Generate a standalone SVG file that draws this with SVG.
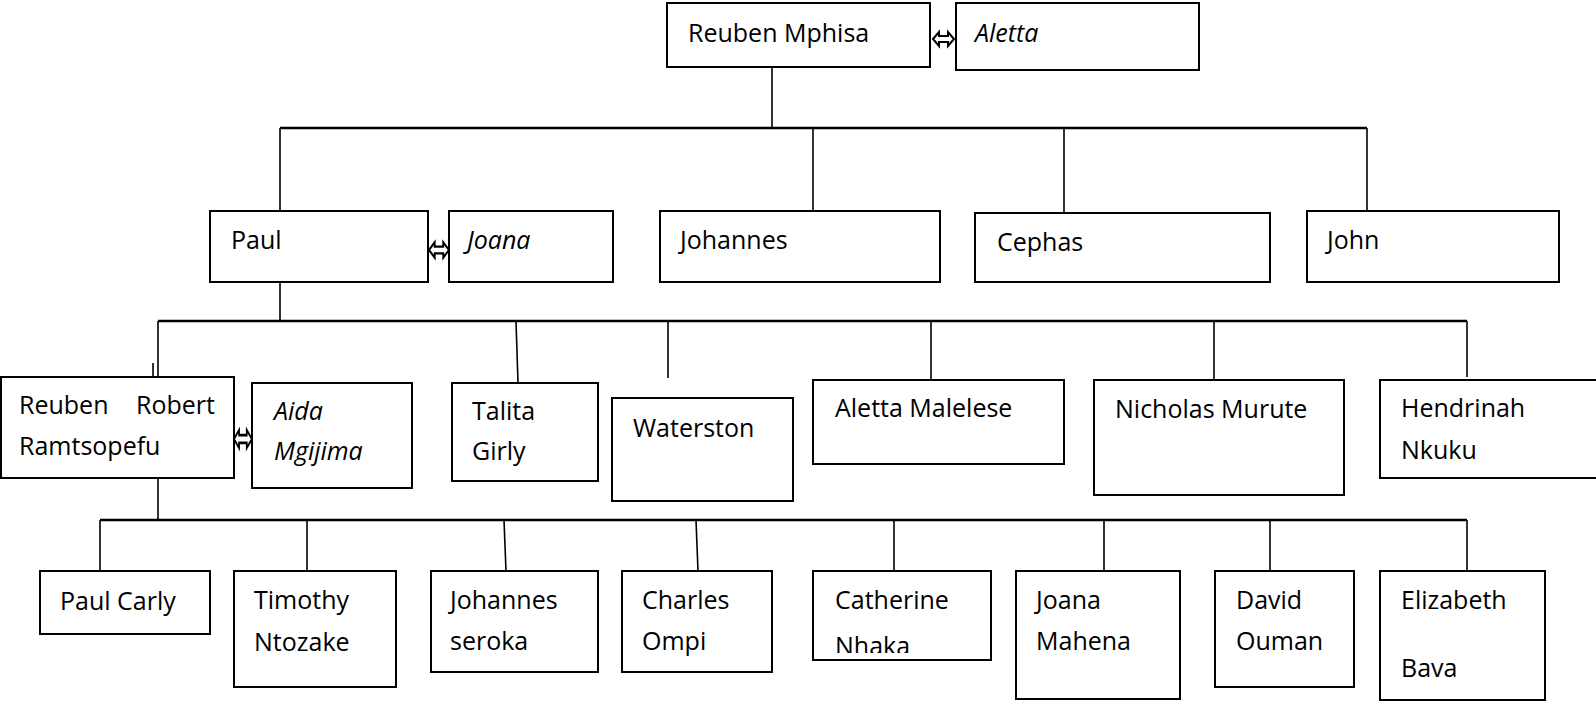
<svg xmlns="http://www.w3.org/2000/svg" width="1596" height="702" viewBox="0 0 1596 702">
<style>
  .box{fill:#fff;stroke:#000;stroke-width:2}
  .t{font-family:"Open Sans","Noto Sans",sans-serif;font-size:25px;fill:#000}
  .i{font-style:italic}
  .bus{stroke:#000;stroke-width:2.5;fill:none}
  .drop{stroke:#000;stroke-width:1.6;fill:none}
  .sp{fill:#fff;stroke:#000;stroke-width:2;stroke-linejoin:miter}
</style>
<defs>
  <clipPath id="clipCath"><rect x="813" y="571" width="178" height="82"/></clipPath>
  <path id="dbl" d="M0,0 L6,-7 L6,-3 L15,-3 L15,-7 L21,0 L15,7 L15,3 L6,3 L6,7 Z"/>
</defs>
<rect width="1596" height="702" fill="#fff"/>

<g id="connectors">
  <line class="drop" x1="772" y1="68" x2="772" y2="128"/>
  <line class="bus" x1="280" y1="128" x2="1367" y2="128"/>
  <line class="drop" x1="280" y1="128" x2="280" y2="211"/>
  <line class="drop" x1="813" y1="128" x2="813" y2="211"/>
  <line class="drop" x1="1064" y1="128" x2="1064" y2="213"/>
  <line class="drop" x1="1367" y1="128" x2="1367" y2="216"/>

  <line class="drop" x1="280" y1="282" x2="280" y2="321"/>
  <line class="bus" x1="158" y1="321" x2="1467" y2="321"/>
  <line class="drop" x1="158" y1="321" x2="158" y2="377"/>
  <line class="drop" x1="153" y1="363" x2="153" y2="377" stroke-width="1"/>
  <line class="drop" x1="516" y1="321" x2="518" y2="383"/>
  <line class="drop" x1="668" y1="321" x2="668" y2="378"/>
  <line class="drop" x1="931" y1="321" x2="931" y2="380"/>
  <line class="drop" x1="1214" y1="321" x2="1214" y2="380"/>
  <line class="drop" x1="1467" y1="321" x2="1467" y2="377"/>

  <line class="drop" x1="158" y1="478" x2="158" y2="520"/>
  <line class="bus" x1="100" y1="520" x2="1467" y2="520"/>
  <line class="drop" x1="100" y1="520" x2="100" y2="571"/>
  <line class="drop" x1="307" y1="520" x2="307" y2="571"/>
  <line class="drop" x1="504" y1="520" x2="506" y2="571"/>
  <line class="drop" x1="696" y1="520" x2="698" y2="571"/>
  <line class="drop" x1="894" y1="520" x2="894" y2="571"/>
  <line class="drop" x1="1104" y1="520" x2="1104" y2="571"/>
  <line class="drop" x1="1270" y1="520" x2="1270" y2="571"/>
  <line class="drop" x1="1467" y1="520" x2="1467" y2="571"/>

  <use href="#dbl" class="sp" transform="translate(933,39)"/>
  <use href="#dbl" class="sp" transform="translate(429,250) scale(0.95,1.1)"/>
  <use href="#dbl" class="sp" transform="translate(234,439) scale(0.85,1.3)"/>
</g>

<g id="n-reuben-mphisa"><rect class="box" x="667" y="3" width="263" height="64"/><text class="t" x="688" y="42">Reuben Mphisa</text></g>
<g id="n-aletta"><rect class="box" x="956" y="3" width="243" height="67"/><text class="t i" x="975" y="42">Aletta</text></g>

<g id="n-paul"><rect class="box" x="210" y="211" width="218" height="71"/><text class="t" x="231" y="249">Paul</text></g>
<g id="n-joana"><rect class="box" x="449" y="211" width="164" height="71"/><text class="t i" x="467" y="249">Joana</text></g>
<g id="n-johannes"><rect class="box" x="660" y="211" width="280" height="71"/><text class="t" x="680" y="249">Johannes</text></g>
<g id="n-cephas"><rect class="box" x="975" y="213" width="295" height="69"/><text class="t" x="997" y="251">Cephas</text></g>
<g id="n-john"><rect class="box" x="1307" y="211" width="252" height="71"/><text class="t" x="1327" y="249">John</text></g>

<g id="n-reuben-robert"><rect class="box" x="1" y="377" width="233" height="101"/><text class="t"><tspan x="19" y="414">Reuben</tspan><tspan x="136" y="414">Robert</tspan><tspan x="19" y="455">Ramtsopefu</tspan></text></g>
<g id="n-aida"><rect class="box" x="252" y="383" width="160" height="105"/><text class="t i"><tspan x="274" y="420">Aida</tspan><tspan x="274" y="460">Mgijima</tspan></text></g>
<g id="n-talita"><rect class="box" x="452" y="383" width="146" height="98"/><text class="t"><tspan x="472" y="420">Talita</tspan><tspan x="472" y="460">Girly</tspan></text></g>
<g id="n-waterston"><rect class="box" x="612" y="398" width="181" height="103"/><text class="t" x="633" y="437">Waterston</text></g>
<g id="n-aletta-malelese"><rect class="box" x="813" y="380" width="251" height="84"/><text class="t" x="835" y="417">Aletta Malelese</text></g>
<g id="n-nicholas"><rect class="box" x="1094" y="380" width="250" height="115"/><text class="t" x="1115" y="418">Nicholas Murute</text></g>
<g id="n-hendrinah"><rect class="box" x="1380" y="380" width="230" height="98"/><text class="t"><tspan x="1401" y="417">Hendrinah</tspan><tspan x="1401" y="459">Nkuku</tspan></text></g>

<g id="n-paul-carly"><rect class="box" x="40" y="571" width="170" height="63"/><text class="t" x="60" y="610">Paul Carly</text></g>
<g id="n-timothy"><rect class="box" x="234" y="571" width="162" height="116"/><text class="t"><tspan x="254" y="609">Timothy</tspan><tspan x="254" y="651">Ntozake</tspan></text></g>
<g id="n-johannes-seroka"><rect class="box" x="431" y="571" width="167" height="101"/><text class="t"><tspan x="450" y="609">Johannes</tspan><tspan x="450" y="650">seroka</tspan></text></g>
<g id="n-charles"><rect class="box" x="622" y="571" width="150" height="101"/><text class="t"><tspan x="642" y="609">Charles</tspan><tspan x="642" y="650">Ompi</tspan></text></g>
<g id="n-catherine"><rect class="box" x="813" y="571" width="178" height="89"/><text class="t" clip-path="url(#clipCath)"><tspan x="835" y="609">Catherine</tspan><tspan x="835" y="655">Nhaka</tspan></text></g>
<g id="n-joana-mahena"><rect class="box" x="1016" y="571" width="164" height="128"/><text class="t"><tspan x="1036" y="609">Joana</tspan><tspan x="1036" y="650">Mahena</tspan></text></g>
<g id="n-david"><rect class="box" x="1215" y="571" width="139" height="116"/><text class="t"><tspan x="1236" y="609">David</tspan><tspan x="1236" y="650">Ouman</tspan></text></g>
<g id="n-elizabeth"><rect class="box" x="1380" y="571" width="165" height="129"/><text class="t"><tspan x="1401" y="609">Elizabeth</tspan><tspan x="1401" y="677">Bava</tspan></text></g>
</svg>
